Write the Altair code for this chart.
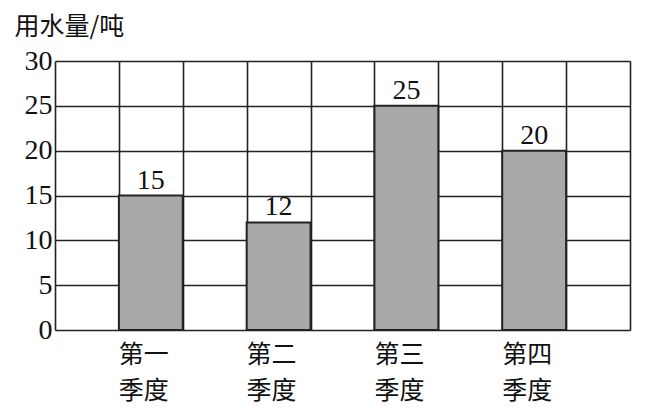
import altair as alt
import pandas as pd

quarters = ["第一\n季度", "第二\n季度", "第三\n季度", "第四\n季度"]
values = [15, 12, 25, 20]
slots = [1, 3, 5, 7]          # column index (of 9 grid columns) that each bar occupies
y_ticks = [0, 5, 10, 15, 20, 25, 30]
x_grid = list(range(10))
y_title = "用水量/吨"

df = pd.DataFrame({"quarter": quarters, "value": values, "start": slots})
df["end"] = df["start"] + 1
df["mid"] = df["start"] + 0.5
df["zero"] = 0

cjk = "Noto Sans CJK SC"
serif = "Liberation Serif"

xscale = alt.Scale(domain=[0, 9], nice=False, zero=False)
yscale = alt.Scale(domain=[0, 30], nice=False)

base = alt.Chart(df)

bars = base.mark_bar(fill="#a9a9a9", stroke="#222222", strokeWidth=2).encode(
    x=alt.X("start:Q", scale=xscale,
            axis=alt.Axis(values=x_grid, grid=True, gridColor="#222222", gridWidth=1.6,
                          gridOpacity=1, labels=False, ticks=False, domain=False, title=None)),
    x2="end:Q",
    y=alt.Y("value:Q", scale=yscale,
            axis=alt.Axis(values=y_ticks, grid=True, gridColor="#222222", gridWidth=1.6,
                          gridOpacity=1, ticks=False, domain=False,
                          labelFont=serif, labelFontSize=28, labelColor="#111111",
                          labelPadding=3, labelBaseline="middle",
                          title=y_title, titleAngle=0, titleAlign="left",
                          titleBaseline="middle", titleX=-41, titleY=-35,
                          titleFont=cjk, titleFontSize=25, titleFontWeight="normal",
                          titleColor="#111111")),
    y2="zero:Q",
)

value_labels = base.mark_text(font=serif, fontSize=28, color="#111111",
                              baseline="alphabetic", dy=-7).encode(
    x="mid:Q", y="value:Q", text="value:Q"
)

cat_labels = base.mark_text(font=cjk, fontSize=25, color="#111111", baseline="top",
                            align="center", lineBreak="\n", lineHeight=36, dy=13, dx=-7).encode(
    x="mid:Q", y="zero:Q", text="quarter:N"
)

chart = alt.layer(bars, value_labels, cat_labels).properties(
    width=575, height=269,
    autosize="none",
    padding={"left": 47, "top": 53, "right": 5, "bottom": 77},
).configure_view(stroke="#222222", strokeWidth=2).configure(background="white")

chart.save("out.html", embed_options={"renderer": "svg", "actions": False})
